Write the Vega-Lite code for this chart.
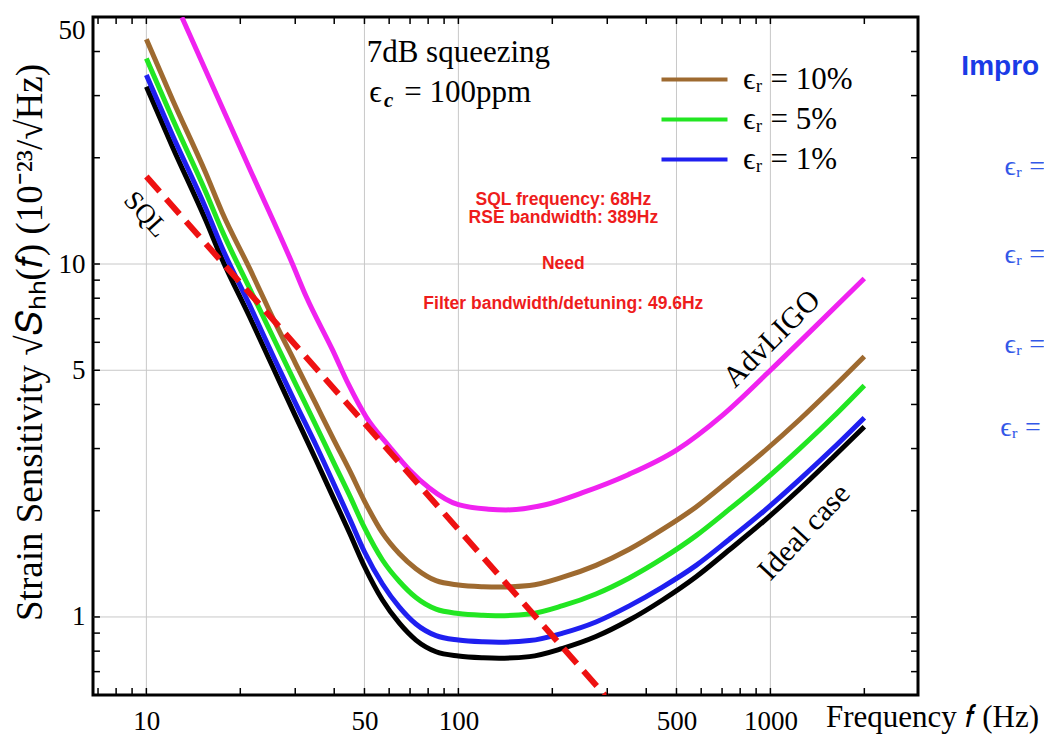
{
  "$schema": "https://vega.github.io/schema/vega-lite/v6.json",
  "width": 825,
  "height": 678,
  "autosize": {"type": "none"},
  "padding": {"left": 93, "top": 17, "right": 126, "bottom": 41},
  "background": "white",
  "config": {
    "view": {"stroke": "black", "strokeWidth": 3},
    "axis": {"grid": false, "domain": false, "labelFont": "Liberation Serif", "titleFont": "Liberation Serif", "labelColor": "black", "titleColor": "black", "tickColor": "black", "tickOpacity": 0, "tickWidth": 1.5, "labelFontSize": 27, "titleFontSize": 31, "titleFontWeight": "normal"},
    "text": {"font": "Liberation Serif", "color": "black"}
  },
  "datasets": {
    "curves": [
      {"series": "Ideal case", "f": 10, "v": 31.8}, {"series": "Ideal case", "f": 12.15, "v": 21.4}, {"series": "Ideal case", "f": 15.5, "v": 13.3}, {"series": "Ideal case", "f": 17.5, "v": 10.3}, {"series": "Ideal case", "f": 21.4, "v": 7.1}, {"series": "Ideal case", "f": 25.7, "v": 5.0}, {"series": "Ideal case", "f": 30, "v": 3.72}, {"series": "Ideal case", "f": 35, "v": 2.78}, {"series": "Ideal case", "f": 40, "v": 2.15}, {"series": "Ideal case", "f": 44.8, "v": 1.73}, {"series": "Ideal case", "f": 50, "v": 1.39}, {"series": "Ideal case", "f": 57.1, "v": 1.117}, {"series": "Ideal case", "f": 64.7, "v": 0.96}, {"series": "Ideal case", "f": 73.1, "v": 0.86}, {"series": "Ideal case", "f": 84.8, "v": 0.797}, {"series": "Ideal case", "f": 100, "v": 0.775}, {"series": "Ideal case", "f": 120, "v": 0.766}, {"series": "Ideal case", "f": 135, "v": 0.764}, {"series": "Ideal case", "f": 169, "v": 0.772}, {"series": "Ideal case", "f": 216, "v": 0.815}, {"series": "Ideal case", "f": 276, "v": 0.88}, {"series": "Ideal case", "f": 353, "v": 0.98}, {"series": "Ideal case", "f": 451, "v": 1.117}, {"series": "Ideal case", "f": 578, "v": 1.3}, {"series": "Ideal case", "f": 739, "v": 1.55}, {"series": "Ideal case", "f": 944, "v": 1.855}, {"series": "Ideal case", "f": 1239, "v": 2.3}, {"series": "Ideal case", "f": 1585, "v": 2.83}, {"series": "Ideal case", "f": 2000, "v": 3.46},
      {"series": "ϵᵣ = 1%", "f": 10, "v": 34.3}, {"series": "ϵᵣ = 1%", "f": 12.15, "v": 23.1}, {"series": "ϵᵣ = 1%", "f": 15.5, "v": 14.4}, {"series": "ϵᵣ = 1%", "f": 17.5, "v": 11.1}, {"series": "ϵᵣ = 1%", "f": 21.4, "v": 7.67}, {"series": "ϵᵣ = 1%", "f": 25.7, "v": 5.4}, {"series": "ϵᵣ = 1%", "f": 30, "v": 4.05}, {"series": "ϵᵣ = 1%", "f": 35, "v": 3.06}, {"series": "ϵᵣ = 1%", "f": 40, "v": 2.37}, {"series": "ϵᵣ = 1%", "f": 44.8, "v": 1.9}, {"series": "ϵᵣ = 1%", "f": 50, "v": 1.53}, {"series": "ϵᵣ = 1%", "f": 57.1, "v": 1.24}, {"series": "ϵᵣ = 1%", "f": 64.7, "v": 1.066}, {"series": "ϵᵣ = 1%", "f": 73.1, "v": 0.955}, {"series": "ϵᵣ = 1%", "f": 84.8, "v": 0.885}, {"series": "ϵᵣ = 1%", "f": 100, "v": 0.86}, {"series": "ϵᵣ = 1%", "f": 120, "v": 0.85}, {"series": "ϵᵣ = 1%", "f": 135, "v": 0.848}, {"series": "ϵᵣ = 1%", "f": 169, "v": 0.857}, {"series": "ϵᵣ = 1%", "f": 216, "v": 0.9}, {"series": "ϵᵣ = 1%", "f": 276, "v": 0.968}, {"series": "ϵᵣ = 1%", "f": 353, "v": 1.075}, {"series": "ϵᵣ = 1%", "f": 451, "v": 1.215}, {"series": "ϵᵣ = 1%", "f": 578, "v": 1.4}, {"series": "ϵᵣ = 1%", "f": 739, "v": 1.66}, {"series": "ϵᵣ = 1%", "f": 944, "v": 1.98}, {"series": "ϵᵣ = 1%", "f": 1239, "v": 2.45}, {"series": "ϵᵣ = 1%", "f": 1585, "v": 3.0}, {"series": "ϵᵣ = 1%", "f": 2000, "v": 3.67},
      {"series": "ϵᵣ = 5%", "f": 10, "v": 38.2}, {"series": "ϵᵣ = 5%", "f": 12.15, "v": 25.7}, {"series": "ϵᵣ = 5%", "f": 15.5, "v": 16.0}, {"series": "ϵᵣ = 5%", "f": 17.5, "v": 12.4}, {"series": "ϵᵣ = 5%", "f": 21.4, "v": 8.55}, {"series": "ϵᵣ = 5%", "f": 25.7, "v": 6.1}, {"series": "ϵᵣ = 5%", "f": 30, "v": 4.6}, {"series": "ϵᵣ = 5%", "f": 35, "v": 3.48}, {"series": "ϵᵣ = 5%", "f": 40, "v": 2.72}, {"series": "ϵᵣ = 5%", "f": 44.8, "v": 2.21}, {"series": "ϵᵣ = 5%", "f": 50, "v": 1.79}, {"series": "ϵᵣ = 5%", "f": 57.1, "v": 1.45}, {"series": "ϵᵣ = 5%", "f": 64.7, "v": 1.26}, {"series": "ϵᵣ = 5%", "f": 73.1, "v": 1.135}, {"series": "ϵᵣ = 5%", "f": 84.8, "v": 1.052}, {"series": "ϵᵣ = 5%", "f": 100, "v": 1.023}, {"series": "ϵᵣ = 5%", "f": 120, "v": 1.011}, {"series": "ϵᵣ = 5%", "f": 135, "v": 1.008}, {"series": "ϵᵣ = 5%", "f": 169, "v": 1.019}, {"series": "ϵᵣ = 5%", "f": 216, "v": 1.076}, {"series": "ϵᵣ = 5%", "f": 276, "v": 1.162}, {"series": "ϵᵣ = 5%", "f": 353, "v": 1.29}, {"series": "ϵᵣ = 5%", "f": 451, "v": 1.465}, {"series": "ϵᵣ = 5%", "f": 578, "v": 1.7}, {"series": "ϵᵣ = 5%", "f": 739, "v": 2.02}, {"series": "ϵᵣ = 5%", "f": 944, "v": 2.415}, {"series": "ϵᵣ = 5%", "f": 1239, "v": 2.995}, {"series": "ϵᵣ = 5%", "f": 1585, "v": 3.68}, {"series": "ϵᵣ = 5%", "f": 2000, "v": 4.53},
      {"series": "ϵᵣ = 10%", "f": 10, "v": 43.3}, {"series": "ϵᵣ = 10%", "f": 12.15, "v": 29.1}, {"series": "ϵᵣ = 10%", "f": 15.5, "v": 18.1}, {"series": "ϵᵣ = 10%", "f": 17.5, "v": 14.0}, {"series": "ϵᵣ = 10%", "f": 21.4, "v": 9.73}, {"series": "ϵᵣ = 10%", "f": 25.7, "v": 6.9}, {"series": "ϵᵣ = 10%", "f": 30, "v": 5.25}, {"series": "ϵᵣ = 10%", "f": 35, "v": 4.0}, {"series": "ϵᵣ = 10%", "f": 40, "v": 3.16}, {"series": "ϵᵣ = 10%", "f": 44.8, "v": 2.6}, {"series": "ϵᵣ = 10%", "f": 50, "v": 2.13}, {"series": "ϵᵣ = 10%", "f": 57.1, "v": 1.73}, {"series": "ϵᵣ = 10%", "f": 64.7, "v": 1.51}, {"series": "ϵᵣ = 10%", "f": 73.1, "v": 1.37}, {"series": "ϵᵣ = 10%", "f": 84.8, "v": 1.267}, {"series": "ϵᵣ = 10%", "f": 100, "v": 1.232}, {"series": "ϵᵣ = 10%", "f": 120, "v": 1.218}, {"series": "ϵᵣ = 10%", "f": 135, "v": 1.215}, {"series": "ϵᵣ = 10%", "f": 169, "v": 1.227}, {"series": "ϵᵣ = 10%", "f": 216, "v": 1.296}, {"series": "ϵᵣ = 10%", "f": 276, "v": 1.4}, {"series": "ϵᵣ = 10%", "f": 353, "v": 1.555}, {"series": "ϵᵣ = 10%", "f": 451, "v": 1.77}, {"series": "ϵᵣ = 10%", "f": 578, "v": 2.05}, {"series": "ϵᵣ = 10%", "f": 739, "v": 2.44}, {"series": "ϵᵣ = 10%", "f": 944, "v": 2.92}, {"series": "ϵᵣ = 10%", "f": 1239, "v": 3.62}, {"series": "ϵᵣ = 10%", "f": 1585, "v": 4.46}, {"series": "ϵᵣ = 10%", "f": 2000, "v": 5.47},
      {"series": "AdvLIGO", "f": 13, "v": 50}, {"series": "AdvLIGO", "f": 21.5, "v": 18.5}, {"series": "AdvLIGO", "f": 29.4, "v": 10.0}, {"series": "AdvLIGO", "f": 32.5, "v": 8.1}, {"series": "AdvLIGO", "f": 39.5, "v": 5.71}, {"series": "AdvLIGO", "f": 44.5, "v": 4.55}, {"series": "AdvLIGO", "f": 50.6, "v": 3.69}, {"series": "AdvLIGO", "f": 60.1, "v": 3.04}, {"series": "AdvLIGO", "f": 69.7, "v": 2.61}, {"series": "AdvLIGO", "f": 80.7, "v": 2.32}, {"series": "AdvLIGO", "f": 100, "v": 2.08}, {"series": "AdvLIGO", "f": 125, "v": 2.02}, {"series": "AdvLIGO", "f": 142, "v": 2.01}, {"series": "AdvLIGO", "f": 190, "v": 2.08}, {"series": "AdvLIGO", "f": 250, "v": 2.25}, {"series": "AdvLIGO", "f": 350, "v": 2.53}, {"series": "AdvLIGO", "f": 500, "v": 2.97}, {"series": "AdvLIGO", "f": 700, "v": 3.72}, {"series": "AdvLIGO", "f": 1000, "v": 5.0}, {"series": "AdvLIGO", "f": 1400, "v": 6.68}, {"series": "AdvLIGO", "f": 2000, "v": 9.1}
    ],
    "sql": [{"f": 10, "v": 17.7}, {"f": 100, "v": 1.77}, {"f": 300, "v": 0.59}],
    "gridx": [{"f": 10}, {"f": 50}, {"f": 100}, {"f": 500}, {"f": 1000}],
    "gridy": [{"v": 1}, {"v": 5}, {"v": 10}],
    "ticksx": [{"f": 7}, {"f": 8}, {"f": 9}, {"f": 10}, {"f": 20}, {"f": 30}, {"f": 40}, {"f": 50}, {"f": 60}, {"f": 70}, {"f": 80}, {"f": 90}, {"f": 100}, {"f": 200}, {"f": 300}, {"f": 400}, {"f": 500}, {"f": 600}, {"f": 700}, {"f": 800}, {"f": 900}, {"f": 1000}, {"f": 2000}],
    "ticksy": [{"v": 0.7}, {"v": 0.8}, {"v": 0.9}, {"v": 1}, {"v": 2}, {"v": 3}, {"v": 4}, {"v": 5}, {"v": 6}, {"v": 7}, {"v": 8}, {"v": 9}, {"v": 10}, {"v": 20}, {"v": 30}, {"v": 40}]
  },
  "layer": [
    {
      "data": {"name": "gridx"},
      "mark": {"type": "rule", "color": "#c8c8c8", "strokeWidth": 1},
      "encoding": {"x": {"field": "f", "type": "quantitative"}}
    },
    {
      "data": {"name": "gridy"},
      "mark": {"type": "rule", "color": "#c8c8c8", "strokeWidth": 1},
      "encoding": {"y": {"field": "v", "type": "quantitative"}}
    },
    {
      "data": {"name": "curves"},
      "mark": {"type": "line", "strokeWidth": 5, "interpolate": "monotone", "clip": true},
      "encoding": {
        "x": {"field": "f", "type": "quantitative", "scale": {"type": "log", "domain": [6.745, 2972], "nice": false},
          "axis": {"orient": "bottom", "values": [7, 8, 9, 10, 20, 30, 40, 50, 60, 70, 80, 90, 100, 200, 300, 400, 500, 600, 700, 800, 900, 1000, 2000],
            "format": "d", "labelExpr": "indexof([10,50,100,500,1000], datum.value) >= 0 ? datum.label : ''",
            "labelFlush": false, "labelOverlap": false, "labelPadding": 20, "tickSize": -7, "grid": false,
            "title": "Frequency 𝑓 (Hz)", "titleX": 839, "titleY": 22, "titleAlign": "center", "titleBaseline": "middle"}},
        "y": {"field": "v", "type": "quantitative", "scale": {"type": "log", "domain": [0.601, 50.1], "nice": false},
          "axis": {"orient": "left", "values": [0.7, 0.8, 0.9, 1, 2, 3, 4, 5, 6, 7, 8, 9, 10, 20, 30, 40, 50],
            "format": "d", "labelExpr": "indexof([1,5,10,50], datum.value) >= 0 ? datum.label : ''",
            "labelFlush": true, "labelOverlap": false, "labelPadding": 15, "tickSize": -7, "grid": false,
            "title": "Strain Sensitivity √𝑆ₕₕ(𝑓) (10⁻²³/√Hz)", "titleFontSize": 37, "titleAngle": -90, "titleX": -63, "titleY": 325, "titleAlign": "center", "titleBaseline": "middle"}},
        "color": {"field": "series", "type": "nominal",
          "scale": {"domain": ["Ideal case", "ϵᵣ = 1%", "ϵᵣ = 5%", "ϵᵣ = 10%", "AdvLIGO"], "range": ["#000000", "#1f1ff0", "#22e622", "#9e6a30", "#f022f0"]},
          "legend": {"values": ["ϵᵣ = 10%", "ϵᵣ = 5%", "ϵᵣ = 1%"], "title": null, "orient": "none", "legendX": 567, "legendY": 47,
            "symbolType": "M-6,0H6", "symbolSize": 121, "symbolStrokeWidth": 4, "symbolOffset": 19, "labelOffset": 33,
            "labelFont": "Liberation Serif", "labelFontSize": 31, "labelColor": "black", "rowPadding": 8, "padding": 0, "labelLimit": 300}}
      }
    },
    {
      "data": {"name": "sql"},
      "mark": {"type": "line", "color": "#ee1111", "strokeWidth": 6, "strokeDash": [20, 10], "clip": true},
      "encoding": {
        "x": {"field": "f", "type": "quantitative"},
        "y": {"field": "v", "type": "quantitative"}
      }
    },
    {
      "data": {"name": "ticksx"},
      "mark": {"type": "rule", "color": "black", "strokeWidth": 1.5},
      "encoding": {"x": {"field": "f", "type": "quantitative"}, "y": {"datum": 0.601, "type": "quantitative"}, "y2": {"datum": 0.629}}
    },
    {
      "data": {"name": "ticksx"},
      "mark": {"type": "rule", "color": "black", "strokeWidth": 1.5},
      "encoding": {"x": {"field": "f", "type": "quantitative"}, "y": {"datum": 50.1, "type": "quantitative"}, "y2": {"datum": 47.87}}
    },
    {
      "data": {"name": "ticksy"},
      "mark": {"type": "rule", "color": "black", "strokeWidth": 1.5},
      "encoding": {"y": {"field": "v", "type": "quantitative"}, "x": {"datum": 6.745, "type": "quantitative"}, "x2": {"datum": 7.1}}
    },
    {
      "data": {"name": "ticksy"},
      "mark": {"type": "rule", "color": "black", "strokeWidth": 1.5},
      "encoding": {"y": {"field": "v", "type": "quantitative"}, "x": {"datum": 2972, "type": "quantitative"}, "x2": {"datum": 2823}}
    },
    {
      "data": {"values": [{"text": "7dB squeezing", "f": 100, "v": 37.4}]},
      "mark": {"type": "text", "fontSize": 31, "align": "center", "baseline": "alphabetic"},
      "encoding": {"x": {"field": "f", "type": "quantitative"}, "y": {"field": "v", "type": "quantitative"}, "text": {"field": "text"}}
    },
    {
      "data": {"values": [{"text": "ϵ", "f": 51.8, "v": 28.8}, {"text": "= 100ppm", "f": 67.1, "v": 28.8}]},
      "mark": {"type": "text", "fontSize": 31, "align": "left", "baseline": "alphabetic"},
      "encoding": {"x": {"field": "f", "type": "quantitative"}, "y": {"field": "v", "type": "quantitative"}, "text": {"field": "text"}}
    },
    {
      "data": {"values": [{"text": "c", "f": 57.8, "v": 27.8}]},
      "mark": {"type": "text", "fontSize": 21, "fontStyle": "italic", "fontWeight": "bold", "align": "left", "baseline": "alphabetic"},
      "encoding": {"x": {"field": "f", "type": "quantitative"}, "y": {"field": "v", "type": "quantitative"}, "text": {"field": "text"}}
    },
    {
      "data": {"values": [{"text": "SQL", "f": 9.93, "v": 13.8}]},
      "mark": {"type": "text", "fontSize": 27, "angle": 48, "align": "center", "baseline": "middle"},
      "encoding": {"x": {"field": "f", "type": "quantitative"}, "y": {"field": "v", "type": "quantitative"}, "text": {"field": "text"}}
    },
    {
      "data": {"values": [{"text": "AdvLIGO", "f": 1011, "v": 6.13}]},
      "mark": {"type": "text", "fontSize": 30, "angle": -45, "align": "center", "baseline": "middle"},
      "encoding": {"x": {"field": "f", "type": "quantitative"}, "y": {"field": "v", "type": "quantitative"}, "text": {"field": "text"}}
    },
    {
      "data": {"values": [{"text": "Ideal case", "f": 1285, "v": 1.74}]},
      "mark": {"type": "text", "fontSize": 30, "angle": -47, "align": "center", "baseline": "middle"},
      "encoding": {"x": {"field": "f", "type": "quantitative"}, "y": {"field": "v", "type": "quantitative"}, "text": {"field": "text"}}
    },
    {
      "data": {"values": [{"text": "SQL frequency: 68Hz", "f": 217, "v": 14.7}, {"text": "RSE bandwidth: 389Hz", "f": 217, "v": 13.06}, {"text": "Need", "f": 217, "v": 9.67}, {"text": "Filter bandwidth/detuning: 49.6Hz", "f": 217, "v": 7.46}]},
      "mark": {"type": "text", "font": "Liberation Sans", "fontWeight": "bold", "fontSize": 17.5, "color": "#ee1c1c", "align": "center", "baseline": "alphabetic"},
      "encoding": {"x": {"field": "f", "type": "quantitative"}, "y": {"field": "v", "type": "quantitative"}, "text": {"field": "text"}}
    },
    {
      "data": {"values": [{"text": "Impro", "f": 4093, "v": 36.1}]},
      "mark": {"type": "text", "font": "Liberation Sans", "fontWeight": "bold", "fontSize": 28, "color": "#1a3be6", "align": "left", "baseline": "middle"},
      "encoding": {"x": {"field": "f", "type": "quantitative"}, "y": {"field": "v", "type": "quantitative"}, "text": {"field": "text"}}
    },
    {
      "data": {"values": [{"text": "ϵᵣ =", "f": 5623, "v": 18.8}, {"text": "ϵᵣ =", "f": 5623, "v": 10.6}, {"text": "ϵᵣ =", "f": 5623, "v": 5.9}, {"text": "ϵᵣ =", "f": 5450, "v": 3.43}]},
      "mark": {"type": "text", "fontSize": 28, "color": "#3358e8", "align": "left", "baseline": "middle"},
      "encoding": {"x": {"field": "f", "type": "quantitative"}, "y": {"field": "v", "type": "quantitative"}, "text": {"field": "text"}}
    }
  ]
}
